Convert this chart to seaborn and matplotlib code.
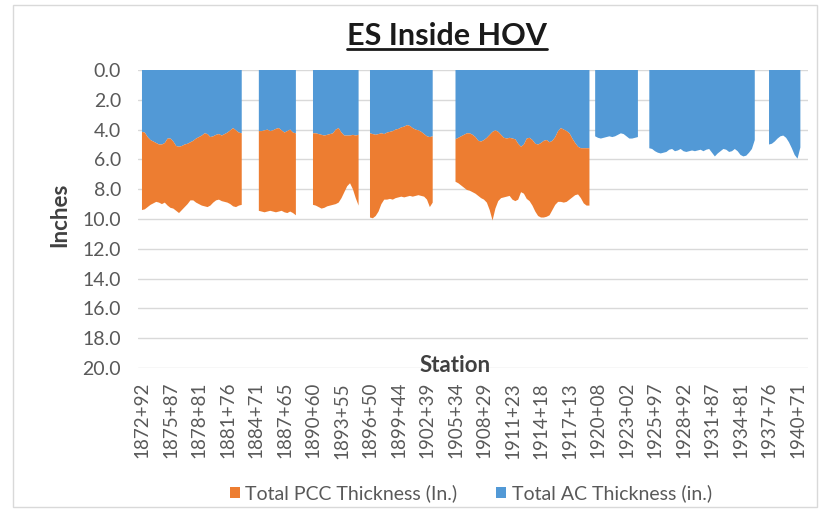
import numpy as np
import pandas as pd
import matplotlib
matplotlib.use("Agg")
import matplotlib.pyplot as plt
from matplotlib.patches import Patch, Rectangle
from matplotlib.lines import Line2D
import seaborn as sns

# ---------------- data ----------------
tick_labels = ["1872+92", "1875+87", "1878+81", "1881+76", "1884+71", "1887+65",
               "1890+60", "1893+55", "1896+50", "1899+44", "1902+39", "1905+34",
               "1908+29", "1911+23", "1914+18", "1917+13", "1920+08", "1923+02",
               "1925+97", "1928+92", "1931+87", "1934+81", "1937+76", "1940+71"]
points_per_label = 10
NA = None

# Total AC thickness (in.) per station (None = no data)
ac_thickness = [
    4.15, 4.2, 4.5, 4.7, 4.8, 4.9, 5.0, 5.0, 4.9, 4.6, 4.6, 4.8, 5.1, 5.15, 5.1, 5.0, 4.95, 4.85,
    4.75, 4.6, 4.5, 4.4, 4.25, 4.3, 4.5, 4.45, 4.35, 4.3, 4.4, 4.3, 4.2, 4.05, 3.9, 4.05, 4.2, 4.25,
    NA, NA, NA, NA, NA,
    4.1, 4.1, 4.05, 4.0, 4.1, 4.05, 3.95, 3.9, 4.05, 4.2, 4.1, 4.0, 4.2, 4.25,
    NA, NA, NA, NA, NA,
    4.25, 4.25, 4.3, 4.35, 4.4, 4.35, 4.3, 4.25, 4.0, 3.9, 4.2, 4.4, 4.4, 4.4, 4.35, 4.4, 4.35,
    NA, NA, NA,
    4.25, 4.3, 4.35, 4.3, 4.25, 4.3, 4.2, 4.15, 4.1, 4.0, 3.95, 3.85, 3.8, 3.7, 3.75, 3.9, 4.0,
    4.05, 4.15, 4.3, 4.45, 4.5, 4.45,
    NA, NA, NA, NA, NA, NA, NA,
    4.65, 4.55, 4.45, 4.35, 4.25, 4.25, 4.35, 4.5, 4.75, 4.8, 4.7, 4.55, 4.35, 4.15, 4.05, 4.15,
    4.35, 4.55, 4.6, 4.55, 4.6, 4.65, 4.95, 5.15, 5.0, 4.6, 4.55, 4.7, 4.95, 5.0, 4.9, 4.75,
    4.7, 4.85, 4.75, 4.5, 4.1, 3.9, 4.0, 4.1, 4.25, 4.6, 4.9, 5.15, 5.25, 5.25, 5.25, 5.25,
    NA,
    4.45, 4.55, 4.6, 4.55, 4.5, 4.45, 4.5, 4.45, 4.35, 4.25, 4.3, 4.45, 4.6, 4.6, 4.55, 4.5,
    NA, NA, NA,
    5.25, 5.3, 5.45, 5.55, 5.6, 5.55, 5.5, 5.35, 5.3, 5.45, 5.4, 5.3, 5.45, 5.5, 5.45, 5.4,
    5.45, 5.4, 5.35, 5.45, 5.35, 5.3, 5.55, 5.8, 5.6, 5.45, 5.3, 5.35, 5.5, 5.45, 5.3, 5.45,
    5.7, 5.8, 5.75, 5.55, 5.3, 4.7,
    NA, NA, NA, NA,
    5.0, 4.95, 4.8, 4.6, 4.45, 4.4, 4.55, 4.85, 5.25, 5.7, 5.95, 5.2,
]

# Total PCC thickness (in.) per station (None = no PCC)
pcc_thickness = [
    5.25, 5.15, 4.7, 4.35, 4.15, 3.95, 3.9, 4.0, 4.0, 4.5, 4.65, 4.5, 4.35, 4.45, 4.3, 4.2, 4.05, 3.9,
    4.0, 4.3, 4.5, 4.7, 4.9, 4.9, 4.6, 4.45, 4.4, 4.4, 4.4, 4.55, 4.7, 4.95, 5.25, 5.15, 4.9, 4.8,
    NA, NA, NA, NA, NA,
    5.35, 5.4, 5.5, 5.5, 5.35, 5.45, 5.6, 5.6, 5.4, 5.35, 5.5, 5.5, 5.4, 5.5,
    NA, NA, NA, NA, NA,
    4.8, 4.85, 4.9, 4.95, 4.85, 4.8, 4.8, 4.8, 5.0, 5.0, 4.4, 3.8, 3.4, 3.2, 3.65, 4.2, 4.75,
    NA, NA, NA,
    5.65, 5.65, 5.45, 5.2, 4.75, 4.4, 4.5, 4.5, 4.6, 4.6, 4.6, 4.65, 4.75, 4.8, 4.7, 4.6, 4.45,
    4.35, 4.3, 4.2, 4.25, 4.7, 4.45,
    NA, NA, NA, NA, NA, NA, NA,
    2.85, 3.05, 3.3, 3.55, 3.8, 3.85, 3.85, 3.8, 3.7, 3.8, 4.0, 4.35, 5.05, 5.95, 5.25, 4.65,
    4.25, 4.0, 3.9, 3.9, 4.1, 4.15, 3.75, 3.05, 3.3, 4.05, 4.25, 4.4, 4.55, 4.8, 5.0, 5.15,
    5.15, 4.9, 4.65, 4.55, 4.75, 4.95, 4.9, 4.75, 4.45, 3.95, 3.5, 3.2, 3.35, 3.7, 3.85, 3.85,
    NA,
    NA, NA, NA, NA, NA, NA, NA, NA, NA, NA, NA, NA, NA, NA, NA, NA,
    NA, NA, NA,
    NA, NA, NA, NA, NA, NA, NA, NA, NA, NA, NA, NA, NA, NA, NA, NA,
    NA, NA, NA, NA, NA, NA, NA, NA, NA, NA, NA, NA, NA, NA, NA, NA,
    NA, NA, NA, NA, NA, NA,
    NA, NA, NA, NA,
    NA, NA, NA, NA, NA, NA, NA, NA, NA, NA, NA, NA,
]

series_names = ["Total PCC Thickness (In.)", "Total AC Thickness (in.)"]
y_ticks = [0, 2, 4, 6, 8, 10, 12, 14, 16, 18, 20]

# ---------------- style ----------------
sns.set_theme(style="white")
plt.rcParams["font.family"] = ["Lato", "DejaVu Sans"]

BLUE = "#5299D6"
ORANGE = "#ED7D31"
GRAY_TXT = "#595959"
DARK_TXT = "#404040"
GRID = "#D9D9D9"

df = pd.DataFrame({"ac": ac_thickness, "pcc": pcc_thickness}, dtype=float)
df["pos"] = np.arange(len(df))
df["total"] = df["ac"] + df["pcc"]

W, H = 822, 529
fig = plt.figure(figsize=(W / 100, H / 100), dpi=100)
fig.patch.set_facecolor("white")

ax_l, ax_r, ax_t, ax_b = 137.7, 807.5, 70, 368
ax = fig.add_axes([ax_l / W, 1 - ax_b / H, (ax_r - ax_l) / W, (ax_b - ax_t) / H])

ax.fill_between(df["pos"], 0, df["ac"], color=BLUE, linewidth=0)
ax.fill_between(df["pos"], df["ac"], df["total"], color=ORANGE, linewidth=0)

ax.set_xlim(-1.5, len(df) + 1.5)
ax.set_ylim(20, 0)
ax.set_yticks(y_ticks)
ax.set_yticklabels([f"{v:.1f}" for v in y_ticks], color=GRAY_TXT, fontsize=14)
ax.set_xticks(np.arange(len(tick_labels)) * points_per_label)
ax.set_xticklabels(tick_labels, rotation=90, color=GRAY_TXT, fontsize=13.5)
ax.tick_params(axis="both", length=0)
ax.tick_params(axis="y", pad=12)
ax.tick_params(axis="x", pad=10)
ax.yaxis.grid(True, color=GRID, linewidth=1)
ax.set_axisbelow(True)
for s in ax.spines.values():
    s.set_visible(False)
ax.set_xlabel("")
ax.set_ylabel("")

# titles & axis labels
title = fig.text(447 / W, 1 - 36 / H, "ES Inside HOV", ha="center", va="center",
                 fontsize=22, fontweight="bold", color="#1a1a1a")
fig.text(60 / W, 1 - 215 / H, "Inches", rotation=90, ha="center", va="center",
         fontsize=16, fontweight="bold", color=DARK_TXT)
fig.text(455 / W, 1 - 366 / H, "Station", ha="center", va="center",
         fontsize=16, fontweight="bold", color=DARK_TXT)

# legend
handles = [Patch(facecolor=ORANGE, edgecolor="none"), Patch(facecolor=BLUE, edgecolor="none")]
leg = fig.legend(handles, series_names, loc="center", bbox_to_anchor=(471 / W, 1 - 493 / H),
                 ncol=2, frameon=False, fontsize=14, handlelength=0.5, handleheight=0.5,
                 handletextpad=0.3, columnspacing=2.0)
for t in leg.get_texts():
    t.set_color(GRAY_TXT)

# chart border
fig.add_artist(Rectangle((13 / W, 1 - 507 / H), (817 - 13) / W, (507 - 5) / H,
                         transform=fig.transFigure, fill=False, edgecolor=GRID, linewidth=1))

# underline title
fig.canvas.draw()
bb = title.get_window_extent()
fig.add_artist(Line2D([bb.x0 / W, bb.x1 / W], [(bb.y0 + 1) / H, (bb.y0 + 1) / H],
                      transform=fig.transFigure, color="#1a1a1a", linewidth=2))

fig.savefig("out.png", dpi=100)
